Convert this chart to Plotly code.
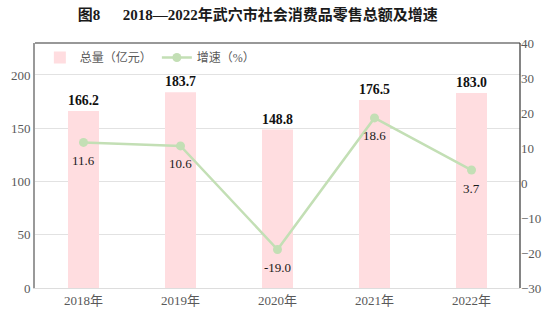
import plotly.graph_objects as go

years = ["2018年", "2019年", "2020年", "2021年", "2022年"]
total = [166.2, 183.7, 148.8, 176.5, 183.0]      # 总量（亿元）
growth = [11.6, 10.6, -19.0, 18.6, 3.7]          # 增速（%）

serif = "Liberation Serif, Noto Sans CJK SC, serif"
bar_color = "#ffdde0"
line_color = "#c3dfb5"
tick_color = "#595959"

fig = go.Figure()

fig.add_trace(go.Bar(
    x=years, y=total, name="总量（亿元）",
    marker=dict(color=bar_color, line=dict(width=0)),
    width=0.32,
    text=[f"{v:.1f}" for v in total],
    textposition="outside",
    textfont=dict(family=serif, size=14, color="#111111"),
    texttemplate="<b>%{text}</b>",
    cliponaxis=False,
))

fig.add_trace(go.Scatter(
    x=years, y=growth, name="增速（%）", yaxis="y2",
    mode="lines+markers",
    line=dict(color=line_color, width=2.5),
    marker=dict(color=line_color, size=9),
))

# growth labels under each point
for yr, g in zip(years, growth):
    fig.add_annotation(
        x=yr, y=g, yref="y2", text=f"{g:.1f}", showarrow=False,
        yshift=-18, font=dict(family=serif, size=13, color="#1a1a1a"),
    )

# top and right frame lines
fig.add_shape(type="line", xref="paper", yref="paper", x0=0, x1=1, y0=1, y1=1,
              line=dict(color="#333333", width=1.2))
fig.add_shape(type="line", xref="paper", yref="paper", x0=1, x1=1, y0=0, y1=1,
              line=dict(color="#333333", width=1.2))

fig.update_layout(
    width=555, height=322,
    margin=dict(l=35, r=35, t=43, b=34),
    paper_bgcolor="white", plot_bgcolor="white",
    title=dict(
        text="<b>图8　  2018—2022年武穴市社会消费品零售总额及增速</b>",
        xref="container", x=0.14, xanchor="left", y=0.953, yanchor="middle",
        font=dict(family=serif, size=15, color="#1a1a1a"),
    ),
    font=dict(family=serif, size=12, color=tick_color),
    bargap=0.68,
    showlegend=True,
    legend=dict(
        orientation="h", x=0.01, y=1.0, xanchor="left", yanchor="top",
        font=dict(family=serif, size=12, color=tick_color),
        bgcolor="rgba(0,0,0,0)", itemwidth=30, tracegroupgap=0,
    ),
    xaxis=dict(
        showgrid=False, showline=True, linecolor="#dddddd", linewidth=1,
        ticks="", tickfont=dict(family=serif, size=13, color=tick_color),
    ),
    yaxis=dict(
        range=[0, 230], tickvals=[0, 50, 100, 150, 200],
        showgrid=True, gridcolor="#e2e2e2", gridwidth=1,
        showline=True, linecolor="#999999", linewidth=2,
        zeroline=False, ticks="",
        tickfont=dict(family=serif, size=13, color=tick_color),
    ),
    yaxis2=dict(
        overlaying="y", side="right", range=[-30, 40], dtick=10,
        showgrid=False, zeroline=False, showline=False, ticks="",
        tickfont=dict(family=serif, size=13, color=tick_color),
    ),
)

fig.write_html("out.html")
